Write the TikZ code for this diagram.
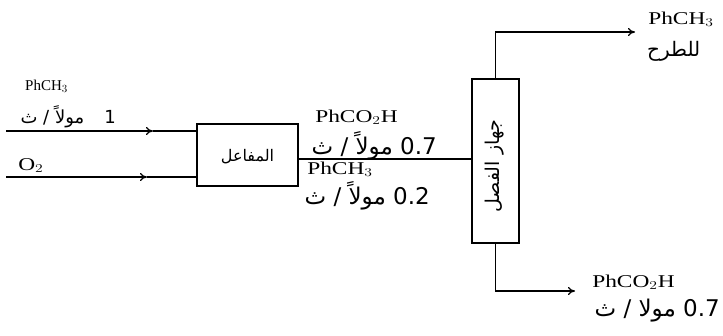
\documentclass[tikz,border=0pt]{standalone}
\usepackage{fontspec}
\setmainfont{Liberation Serif}
\newfontfamily\arabicfont[Script=Arabic]{DejaVu Sans}
\TeXXeTstate=1
\usetikzlibrary{arrows.meta}
\begin{document}
\begin{tikzpicture}[x=1pt,y=-1pt,
  flow/.style={line width=1.2pt},
  tip/.style={-{To[length=7pt,width=8pt]}},
  unitbox/.style={draw,line width=1.2pt,inner sep=0pt},
  latlab/.style={inner sep=0pt,font=\fontsize{18}{21}\selectfont,xscale=1.3,transform shape},
  latsmall/.style={inner sep=0pt,font=\fontsize{15}{18}\selectfont},
  arlab/.style={inner sep=0pt,font=\arabicfont\fontsize{23}{26}\selectfont},
  arsmall/.style={inner sep=0pt,font=\arabicfont\fontsize{18}{20}\selectfont},
  boxlab/.style={inner sep=0pt,font=\arabicfont\fontsize{16}{18}\selectfont}
]
\useasboundingbox[fill=white] (0,0) rectangle (723,335);

% units
\node[unitbox, minimum width=101pt, minimum height=62pt] (reactor) at (247.5,155) {};
\node[boxlab] (reactorlab) at (247.5,157) {\beginR المفاعل\endR};
\node[unitbox, minimum width=47pt, minimum height=164pt] (sep) at (495.5,161) {};
\node[boxlab, font=\arabicfont\fontsize{19}{22}\selectfont, rotate=90] (seplab) at (495,166) {\beginR جهاز الفصل\endR};

% inputs
\coordinate (in1s) at (6,131);
\coordinate (in1m) at (153,131);
\draw[flow,tip] (in1s) -- (in1m);
\draw[flow] (in1m) -- (in1m -| reactor.west);
\coordinate (in2s) at (6,177);
\coordinate (in2m) at (147,177);
\draw[flow,tip] (in2s) -- (in2m);
\draw[flow] (in2m) -- (in2m -| reactor.west);

% reactor to separator
\coordinate (rout) at (reactor.east |- 0,159);
\draw[flow] (rout) -- (rout -| sep.west);

% separator outputs
\coordinate (topc) at (495.5,32);
\coordinate (topend) at (635,32);
\draw[flow,tip] (sep.north) -- (topc) -- (topend);
\coordinate (botc) at (495.5,291);
\coordinate (botend) at (575,291);
\draw[flow,tip] (sep.south) -- (botc) -- (botend);

% labels left
\node[latsmall, anchor=base west] (l1) at (25,90) {PhCH$_3$};
\node[arsmall, anchor=base east] (l1q) at (116,123) {\beginR 1\hspace{0.8em} مولاً / ث\endR};
\node[latlab, anchor=base west] (l2) at (18,170) {O$_2$};

% labels middle
\node[latlab, anchor=base west] (m1) at (315,122) {PhCO$_2$H};
\node[arlab, anchor=base east] (m1q) at (437,154) {\beginR\beginL 0.7\endL{} مولاً / ث\endR};
\node[latlab, anchor=base west] (m2) at (307,174) {PhCH$_3$};
\node[arlab, anchor=base east] (m2q) at (430,204) {\beginR\beginL 0.2\endL{} مولاً / ث\endR};

% labels right
\node[latlab, anchor=base west] (t1) at (648,24) {PhCH$_3$};
\node[arsmall, font=\arabicfont\fontsize{20}{22}\selectfont, anchor=base west] (t2) at (647,56) {\beginR للطرح\endR};
\node[latlab, anchor=base west] (b1) at (592,287) {PhCO$_2$H};
\node[arlab, anchor=base east] (b1q) at (720,316) {\beginR\beginL 0.7\endL{} مولا / ث\endR};
\end{tikzpicture}
\end{document}
